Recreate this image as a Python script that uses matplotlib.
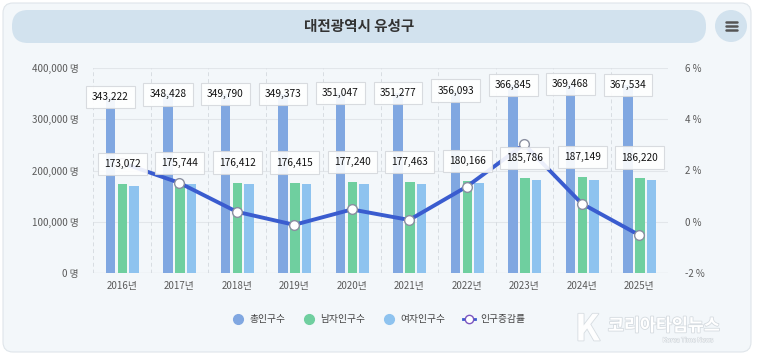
import numpy as np
import matplotlib
matplotlib.use('Agg')
import matplotlib.pyplot as plt
from matplotlib.patches import FancyBboxPatch, Circle
from matplotlib.lines import Line2D
import matplotlib.patheffects as pe

plt.rcParams['font.family'] = ['Noto Sans CJK KR', 'DejaVu Sans']

# data
years = ['2016년', '2017년', '2018년', '2019년', '2020년', '2021년', '2022년', '2023년', '2024년', '2025년']
total = [343222, 348428, 349790, 349373, 351047, 351277, 356093, 366845, 369468, 367534]
male = [173072, 175744, 176412, 176415, 177240, 177463, 180166, 185786, 187149, 186220]
female = [170150, 172684, 173378, 172958, 173807, 173814, 175927, 181059, 182319, 181314]
growth = [2.30, 1.52, 0.39, -0.12, 0.48, 0.07, 1.37, 3.02, 0.71, -0.52]

c_total = '#80a7e1'
c_male = '#6fcf9f'
c_female = '#8ec3ef'
c_line = '#3a5ccf'

fig = plt.figure(figsize=(7.57, 3.6), dpi=100, facecolor='white')

# background card, title pill, menu button (pixel coords)
bg = fig.add_axes([0, 0, 1, 1], zorder=-5)
bg.set_xlim(0, 757)
bg.set_ylim(360, 0)
bg.axis('off')
bg.add_patch(FancyBboxPatch((3, 3), 748, 349, boxstyle='round,pad=0,rounding_size=10',
                            fc='#f3f7fa', ec='#dfe5ea', lw=0.8))
bg.add_patch(FancyBboxPatch((12, 10), 694, 33, boxstyle='round,pad=0,rounding_size=16',
                            fc='#d2e2ee', ec='none'))
bg.text(359, 26.5, '대전광역시 유성구', ha='center', va='center', fontsize=10.5,
        fontweight='bold', color='#333333')
bg.add_patch(Circle((731, 26), 16, fc='#d2e2ee', ec='none'))
for dy in (-4, 0, 4):
    bg.plot([725.5, 736.5], [26 + dy, 26 + dy], color='#555555', lw=1.8, solid_capstyle='round')

# watermark
bg.text(575, 330, 'K', fontsize=26, fontweight='bold', color='white', alpha=0.95, va='center',
        path_effects=[pe.withStroke(linewidth=1.2, foreground='#d5dbe0')])
bg.text(664, 326, '코리아타임뉴스', fontsize=12.5, fontweight='bold', color='white', ha='center',
        va='center', path_effects=[pe.withStroke(linewidth=1.2, foreground='#d5dbe0')])
bg.text(688, 340, 'Korea Time News', fontsize=4.5, color='white', ha='center', va='center',
        path_effects=[pe.withStroke(linewidth=0.8, foreground='#d5dbe0')])

ax = fig.add_axes([93 / 757, 1 - 273 / 360, 575 / 757, 205 / 360])
ax.set_facecolor('none')
x = np.arange(len(years))
w = 0.165
ax.bar(x - 0.195, total, w, color=c_total, zorder=2)
ax.bar(x + 0.01, male, w, color=c_male, zorder=2)
ax.bar(x + 0.215, female, w, color=c_female, zorder=2)

ax.set_xlim(-0.5, 9.5)
ax.set_ylim(0, 400000)
ax.set_yticks(range(0, 400001, 100000))
ax.set_yticklabels([f'{v:,} 명' for v in range(0, 400001, 100000)])
ax.set_xticks(x)
ax.set_xticklabels(years)
ax.tick_params(axis='both', length=0, labelsize=7, colors='#5a5a5a')
ax.tick_params(axis='y', pad=10)
ax.tick_params(axis='x', pad=6)
for yv in range(0, 400001, 100000):
    ax.axhline(yv, color='#e2e6ea', lw=0.8, zorder=0)
for b in np.arange(-0.5, 10, 1.0):
    ax.axvline(b, color='#d8dde2', lw=0.7, ls=(0, (4, 3)), zorder=0)
for s in ax.spines.values():
    s.set_visible(False)
ax.axhline(0, color='#c8cdd2', lw=0.8, zorder=1)

ax2 = ax.twinx()
ax2.set_ylim(-2, 6)
ax2.set_yticks([-2, 0, 2, 4, 6])
ax2.set_yticklabels(['-2 %', '0 %', '2 %', '4 %', '6 %'])
ax2.tick_params(axis='y', length=0, labelsize=7, colors='#5a5a5a', pad=12)
for s in ax2.spines.values():
    s.set_visible(False)
ax2.plot(x, growth, color=c_line, lw=2.8, zorder=3, marker='o', markersize=7,
         markerfacecolor='white', markeredgecolor='#8a8fa0', markeredgewidth=1)

box = dict(boxstyle='square,pad=0.6', fc='white', ec='#d5d8dc', lw=0.8, alpha=0.9)
for i in range(len(years)):
    ax2.annotate(f'{total[i]:,}', xy=(x[i] - 0.195, total[i]), xycoords=ax.transData,
                 ha='center', va='center', fontsize=7.3, color='#111111', bbox=box, zorder=5)
    ax2.annotate(f'{male[i]:,}', xy=(x[i] + 0.01, male[i]), xycoords=ax.transData,
                 xytext=(0, 20), textcoords='offset pixels',
                 ha='center', va='center', fontsize=7.3, color='#111111', bbox=box, zorder=5)

handles = [
    Line2D([], [], ls='none', marker='o', markersize=7, color=c_total),
    Line2D([], [], ls='none', marker='o', markersize=7, color=c_male),
    Line2D([], [], ls='none', marker='o', markersize=7, color=c_female),
    Line2D([], [], color=c_line, lw=2, marker='o', markersize=6,
           markerfacecolor='white', markeredgecolor='#7b55c0'),
]
fig.legend(handles, ['총인구수', '남자인구수', '여자인구수', '인구증감률'], loc='center',
           bbox_to_anchor=(0.5, 1 - 319 / 360), ncol=4, frameon=False, fontsize=7,
           handlelength=1.3, columnspacing=1.8, handletextpad=0.5, labelcolor='#444444')

fig.savefig('out.png', dpi=100, facecolor=fig.get_facecolor())
